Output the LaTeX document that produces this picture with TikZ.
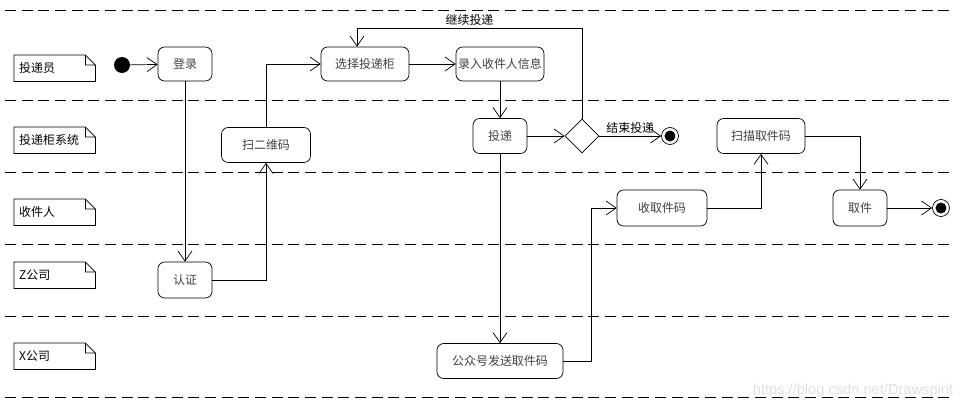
\documentclass[tikz,border=0pt]{standalone}
\usepackage{fontspec}
\setmainfont{Noto Sans CJK SC}
\newfontfamily\wmfont{Liberation Sans}
\usetikzlibrary{arrows.meta,shapes.geometric}

\tikzset{
    act/.style={draw, rounded corners=2mm, line width=0.6pt, inner sep=0pt, text=black!75, font=\fontsize{10.2}{12}\selectfont},
    lanenote/.style={anchor=north west, minimum width=24.3mm, minimum height=7.8mm, inner sep=1.5mm, text width=21.3mm, align=left, font=\fontsize{10.2}{12}\selectfont},
    flow/.style={line width=0.6pt, -{Straight Barb[length=3mm,width=4.2mm,line width=0.6pt]}},
    lanesep/.style={line width=0.6pt, dash pattern=on 3.3mm off 1.7mm},
    endnode/.style={circle, draw, line width=0.6pt, fill=white, minimum size=5.1mm, inner sep=0pt,
        path picture={\fill[black] (path picture bounding box.center) circle (1.65mm);}}
}

\begin{document}
\begin{tikzpicture}[x=0.3mm,y=-0.3mm]

    \useasboundingbox (0,0) rectangle (972,411);

    \foreach \y in {10,100,172,244,316,397}
        \draw[lanesep] (5,\y) -- (950,\y);

    \node[lanenote] (lyuan) at (14,55) {投递员};
    \node[lanenote] (lgui) at (14,127) {投递柜系统};
    \node[lanenote] (lren) at (14,199) {收件人};
    \node[lanenote] (lz) at (14,262) {Z公司};
    \node[lanenote] (lx) at (14,343) {X公司};
    \foreach \n in {lyuan,lgui,lren,lz,lx}
        \draw[line width=0.6pt] (\n.north west) -- ([xshift=-3mm]\n.north east) -- ([yshift=-3mm]\n.north east) -- (\n.south east) -- (\n.south west) -- cycle
            ([xshift=-3mm]\n.north east) |- ([yshift=-3mm]\n.north east);

    \node[circle, fill=black, minimum size=4.8mm, inner sep=0pt] (start) at (122,65) {};
    \node[act, minimum width=16.2mm, minimum height=10.2mm] (denglu) at (185,64) {登录};
    \node[act, minimum width=16.2mm, minimum height=10.8mm] (renzheng) at (185,280) {认证};
    \node[act, minimum width=26.7mm, minimum height=10.5mm] (saoma) at (266,145) {扫二维码};
    \node[act, minimum width=26.4mm, minimum height=10.2mm] (xuanze) at (365,64) {选择投递柜};
    \node[act, minimum width=26.4mm, minimum height=10.2mm] (luru) at (500,64) {录入收件人信息};
    \node[act, minimum width=16.2mm, minimum height=10.5mm] (toudi) at (500,136) {投递};
    \node[diamond, draw, line width=0.6pt, minimum size=10.2mm, inner sep=0pt] (pd) at (582,136) {};
    \node[endnode] (end1) at (670,136) {};
    \node[act, minimum width=37.8mm, minimum height=10.5mm] (fasong) at (500,361) {公众号发送取件码};
    \node[act, minimum width=27mm, minimum height=10.8mm] (shouqu) at (662,208) {收取件码};
    \node[act, minimum width=26.4mm, minimum height=10.5mm] (saomiao) at (761,136) {扫描取件码};
    \node[act, minimum width=16.2mm, minimum height=10.8mm] (qujian) at (860,208) {取件};
    \node[endnode] (end2) at (941,208) {};

    \coordinate (jixu) at (357,28);
    \coordinate (zhe) at (591,208);

    \draw[flow] (start) -- (denglu);
    \draw[flow] (denglu) -- (renzheng);
    \draw[flow] (renzheng.east) -| (saoma.south);
    \draw[flow] (saoma.north) |- (xuanze.west);
    \draw[flow] (xuanze) -- (luru);
    \draw[flow] (luru) -- (toudi);
    \draw[flow] (toudi) -- (pd);
    \draw[flow] (pd) -- node[above, font=\fontsize{10.2}{12}\selectfont, yshift=-0.5mm] (jieshu) {结束投递} (end1);
    \draw[flow] (pd.north) |- node[pos=0.75, above, font=\fontsize{10.2}{12}\selectfont, yshift=-0.5mm] (jixutext) {继续投递} (jixu) -- (jixu |- xuanze.north);
    \draw[flow] (toudi) -- (fasong);
    \draw[flow] (fasong.east) -| (zhe) -- (shouqu.west);
    \draw[flow] (shouqu.east) -| (saomiao.south);
    \draw[flow] (saomiao.east) -| (qujian.north);
    \draw[flow] (qujian) -- (end2);

    \node[text=black!12, font=\wmfont\fontsize{12.5}{14}\selectfont] (wm) at (853,391) {https://blog.csdn.net/Drawspirit};

\end{tikzpicture}
\end{document}
